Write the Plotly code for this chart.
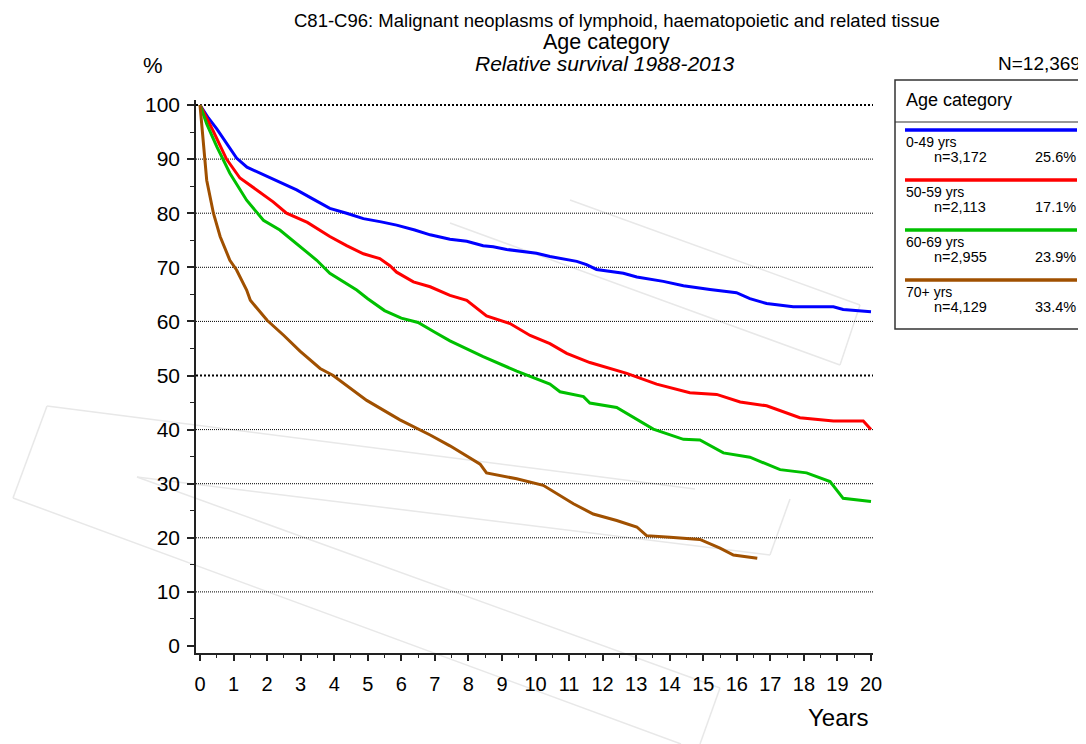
import plotly.graph_objects as go

# ---------------- data ----------------
SERIES_NAMES = ["0-49 yrs", "50-59 yrs", "60-69 yrs", "70+ yrs"]
SERIES_N = ["n=3,172", "n=2,113", "n=2,955", "n=4,129"]
SERIES_PCT = ["25.6%", "17.1%", "23.9%", "33.4%"]
SERIES_COLORS = ["#0000FF", "#FF0000", "#00C000", "#A05000"]

t_0_49 = [0, 0.25, 0.5, 0.7, 0.89, 1.09, 1.4, 1.89, 2.4, 2.88, 3.4, 3.87, 4.37, 4.87, 5.4, 5.86,
          6.4, 6.86, 7.45, 7.95, 8.44, 8.74, 9.14, 9.44, 10.03, 10.43, 11.23, 11.52, 11.82, 12.62,
          13.02, 13.81, 14.41, 15.2, 15.99, 16.39, 16.89, 17.68, 18.88, 19.17, 20.0]
v_0_49 = [100, 97.6, 95.6, 93.8, 92.1, 90.2, 88.5, 87.1, 85.6, 84.3, 82.5, 80.9, 80.0, 79.0, 78.4,
          77.8, 76.9, 76.0, 75.2, 74.8, 74.0, 73.8, 73.3, 73.1, 72.6, 72.0, 71.1, 70.5, 69.6, 68.9,
          68.2, 67.4, 66.6, 65.9, 65.3, 64.2, 63.3, 62.7, 62.7, 62.2, 61.8]

t_50_59 = [0, 0.4, 0.79, 1.19, 1.69, 2.18, 2.58, 3.2, 3.87, 4.37, 4.87, 5.36, 5.66, 5.86, 6.36,
           6.86, 7.45, 7.95, 8.54, 9.24, 9.84, 10.43, 10.93, 11.62, 12.72, 13.61, 14.6, 15.4,
           16.1, 16.89, 17.88, 18.88, 19.77, 20.0]
v_50_59 = [100, 95.1, 90.0, 86.5, 84.3, 82.1, 80.0, 78.3, 75.7, 74.0, 72.5, 71.6, 70.3, 69.1, 67.3,
           66.4, 64.8, 63.9, 61.0, 59.6, 57.4, 55.9, 54.1, 52.4, 50.4, 48.4, 46.8, 46.5,
           45.1, 44.4, 42.2, 41.6, 41.6, 40.0]

t_60_69 = [0, 0.2, 0.5, 0.89, 1.39, 1.89, 2.38, 2.88, 3.48, 3.87, 4.67, 5.0, 5.5, 6.0, 6.5, 7.0,
           7.45, 8.44, 9.44, 10.43, 10.73, 11.43, 11.62, 12.42, 13.11, 13.51, 14.41, 14.9, 15.6,
           16.39, 17.29, 18.08, 18.78, 19.17, 20.0]
v_60_69 = [100, 96.5, 92.3, 87.4, 82.4, 78.7, 76.9, 74.4, 71.3, 68.9, 65.8, 64.2, 62.0, 60.6, 59.8,
           58.0, 56.4, 53.5, 50.8, 48.4, 47.0, 46.1, 44.9, 44.1, 41.6, 40.1, 38.2, 38.1, 35.7,
           34.9, 32.6, 32.0, 30.4, 27.3, 26.7]

t_70p = [0, 0.1, 0.2, 0.4, 0.6, 0.89, 1.09, 1.39, 1.5, 2.0, 2.5, 2.98, 3.58, 3.97, 4.97, 5.96, 6.86,
         7.45, 8.35, 8.54, 9.44, 10.23, 11.13, 11.72, 12.42, 13.02, 13.31, 14.01, 14.9, 15.5,
         15.9, 16.61]
v_70p = [100, 93.5, 86.1, 80.0, 75.7, 71.3, 69.5, 65.8, 63.9, 60.2, 57.4, 54.5, 51.3, 50.0, 45.4,
         41.8, 39.0, 37.0, 33.6, 32.0, 30.9, 29.7, 26.3, 24.4, 23.2, 22.0, 20.4, 20.1, 19.7,
         18.1, 16.8, 16.2]

SERIES_T = [t_0_49, t_50_59, t_60_69, t_70p]
SERIES_V = [v_0_49, v_50_59, v_60_69, v_70p]

X_TICKS = list(range(0, 21))
Y_TICKS = list(range(0, 101, 10))
GRID_THIN = [10, 20, 30, 40, 60, 70, 80, 90]
GRID_BOLD = [50, 100]

TITLE_1 = "C81-C96: Malignant neoplasms of lymphoid, haematopoietic and related tissue"
TITLE_2 = "Age category"
TITLE_3 = "<i>Relative survival 1988-2013</i>"
TOTAL_N = "N=12,369"
LEGEND_TITLE = "Age category"

# faint background watermark strokes (page pixels)
WATERMARK = [
    [(47, 406), (13, 498)], [(47, 406), (695, 489)], [(13, 498), (681, 744)],
    [(137, 477), (770, 555)], [(770, 555), (790, 499)], [(137, 477), (720, 688)],
    [(720, 688), (700, 744)], [(450, 223), (840, 365)], [(840, 365), (860, 305)],
    [(860, 305), (570, 200)],
]

# ---------------- layout geometry (page pixels; page body adds an 8px offset) ----------------
PAGE_W, PAGE_H = 1086, 744
OFF = 8
W, H = PAGE_W - OFF, PAGE_H - OFF
PX0, PX1 = 196, 873      # plot area left/right on page
PY0, PY1 = 100, 653      # plot area top/bottom on page
FONT = "Arial, Liberation Sans, sans-serif"


def xp(px):
    return (px - PX0) / (PX1 - PX0)


def yp(py):
    return (PY1 - py) / (PY1 - PY0)


def note(px, py, text, size, anchor="center"):
    return dict(x=xp(px), y=yp(py), xref="paper", yref="paper", text=text, xanchor=anchor,
                yanchor="middle", showarrow=False, font=dict(size=size, color="black"))


fig = go.Figure()
for name, tt, vv, col in zip(SERIES_NAMES, SERIES_T, SERIES_V, SERIES_COLORS):
    fig.add_trace(go.Scatter(x=tt, y=vv, mode="lines", name=name,
                             line=dict(color=col, width=3), showlegend=False))

shapes = []
for seg in WATERMARK:
    (ax, ay), (bx, by) = seg
    shapes.append(dict(type="line", xref="paper", yref="paper", x0=xp(ax), y0=yp(ay),
                       x1=xp(bx), y1=yp(by), line=dict(color="#e8e8e8", width=1.5),
                       layer="below"))
for g in GRID_THIN:
    shapes.append(dict(type="line", xref="paper", yref="y", x0=0, x1=1, y0=g, y1=g,
                       line=dict(color="black", width=1, dash="1px,1px"), layer="below"))
for g in GRID_BOLD:
    shapes.append(dict(type="line", xref="paper", yref="y", x0=0, x1=1, y0=g, y1=g,
                       line=dict(color="black", width=2, dash="2px,2px"), layer="below"))

# legend box
shapes.append(dict(type="rect", xref="paper", yref="paper", x0=xp(895), x1=xp(1100),
                   y0=yp(329), y1=yp(80), line=dict(color="#333333", width=1.5)))
shapes.append(dict(type="line", xref="paper", yref="paper", x0=xp(895), x1=xp(1100),
                   y0=yp(122), y1=yp(122), line=dict(color="#333333", width=1.2)))

annotations = []
for i, (name, n, pct, col) in enumerate(zip(SERIES_NAMES, SERIES_N, SERIES_PCT, SERIES_COLORS)):
    base = 130 + 50 * i
    shapes.append(dict(type="line", xref="paper", yref="paper", x0=xp(905), x1=xp(1077),
                       y0=yp(base), y1=yp(base), line=dict(color=col, width=3.5)))
    annotations.append(note(904, base + 12, name, 14, "left"))
    annotations.append(note(932, base + 27, n, 14.5, "left"))
    annotations.append(note(1078, base + 27, pct, 14.5, "right"))

annotations += [
    note(904, 100, LEGEND_TITLE, 18, "left"),
    note(617, 20, TITLE_1, 18.5),
    note(606, 42, TITLE_2, 21.5),
    note(604, 63, TITLE_3, 21),
    note(1083, 63, TOTAL_N, 19, "right"),
    note(153, 66, "%", 22),
    note(838, 717, "Years", 24),
]

fig.update_layout(
    width=W, height=H,
    margin=dict(l=PX0 - OFF, r=PAGE_W - PX1, t=PY0 - OFF, b=PAGE_H - PY1, pad=0,
                autoexpand=False),
    paper_bgcolor="white", plot_bgcolor="white",
    font=dict(family=FONT, color="black"),
    shapes=shapes, annotations=annotations, showlegend=False,
    xaxis=dict(range=[(PX0 - 200) / 33.55, (PX1 - 200) / 33.55], tickvals=X_TICKS,
               showgrid=False, zeroline=False, showline=True, linecolor="#222222",
               linewidth=1.5, ticks="outside", ticklen=6, tickwidth=1.5, tickcolor="#222222",
               tickfont=dict(size=20), ticklabelstandoff=6, automargin=False,
               minor=dict(dtick=0.5, ticks="outside", ticklen=3, tickwidth=1.2,
                          tickcolor="#222222", showgrid=False)),
    yaxis=dict(range=[(646 - PY1) / 5.41, (646 - PY0) / 5.41], tickvals=Y_TICKS,
               showgrid=False, zeroline=False, showline=True, linecolor="#222222",
               linewidth=1.5, ticks="outside", ticklen=7, tickwidth=1.5, tickcolor="#222222",
               tickfont=dict(size=21), ticklabelstandoff=3, automargin=False,
               minor=dict(dtick=5, ticks="outside", ticklen=4, tickwidth=1.2,
                          tickcolor="#222222", showgrid=False)),
)

fig.write_html("out.html")
